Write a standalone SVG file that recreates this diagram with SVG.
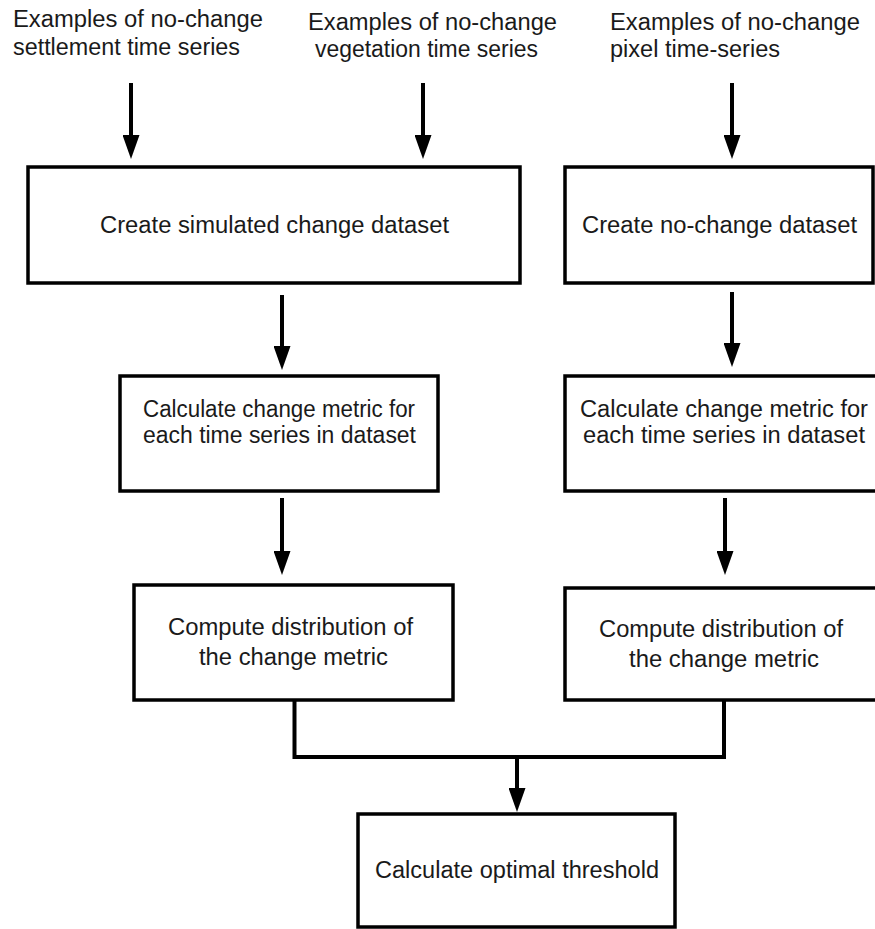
<svg xmlns="http://www.w3.org/2000/svg" width="875" height="929" viewBox="0 0 875 929">
<style>
  text { font-family: "Liberation Sans", Arial, sans-serif; font-size: 23px; fill: #1a1a1a; }
  .box { fill: #ffffff; stroke: #000000; stroke-width: 3.5; }
  .conn { fill: none; stroke: #000000; stroke-width: 4; }
  .arrow { fill: none; stroke: #000000; stroke-width: 4; marker-end: url(#head); }
</style>
<defs>
  <marker id="head" viewBox="0 0 24 17" markerWidth="24" markerHeight="17" refX="0" refY="8.5" orient="auto" markerUnits="userSpaceOnUse">
    <path d="M0,0 L24,8.5 L0,17 Z" fill="#000000"/>
  </marker>
</defs>
<rect width="875" height="929" fill="#ffffff"/>

<g id="src-settlement">
  <text x="13" y="27" textLength="250" lengthAdjust="spacingAndGlyphs">Examples of no-change</text>
  <text x="13" y="55" textLength="227" lengthAdjust="spacingAndGlyphs">settlement time series</text>
</g>
<g id="src-vegetation">
  <text x="308" y="30" textLength="249" lengthAdjust="spacingAndGlyphs">Examples of no-change</text>
  <text x="315" y="57" textLength="223" lengthAdjust="spacingAndGlyphs">vegetation time series</text>
</g>
<g id="src-pixel">
  <text x="610" y="30" textLength="250" lengthAdjust="spacingAndGlyphs">Examples of no-change</text>
  <text x="610" y="57" textLength="170" lengthAdjust="spacingAndGlyphs">pixel time-series</text>
</g>

<g id="connectors">
  <line class="arrow" x1="131" y1="83" x2="131" y2="135"/>
  <line class="arrow" x1="423" y1="83" x2="423" y2="135"/>
  <line class="arrow" x1="732" y1="83" x2="732" y2="135"/>
  <line class="arrow" x1="282" y1="295" x2="282" y2="346"/>
  <line class="arrow" x1="732" y1="292" x2="732" y2="343"/>
  <line class="arrow" x1="282" y1="498" x2="282" y2="551"/>
  <line class="arrow" x1="725" y1="498" x2="725" y2="551"/>
  <path class="conn" d="M294.5,700 V757 H724 V700"/>
  <line class="arrow" x1="517" y1="757" x2="517" y2="788"/>
</g>

<g id="simulated-change">
  <rect class="box" x="28" y="167" width="492" height="116"/>
  <text x="100" y="233" textLength="349" lengthAdjust="spacingAndGlyphs">Create simulated change dataset</text>
</g>
<g id="no-change">
  <rect class="box" x="565" y="167" width="308" height="116"/>
  <text x="582" y="233" textLength="275" lengthAdjust="spacingAndGlyphs">Create no-change dataset</text>
</g>
<g id="metric-left">
  <rect class="box" x="120" y="376" width="318" height="115"/>
  <text x="143" y="417" textLength="272" lengthAdjust="spacingAndGlyphs">Calculate change metric for</text>
  <text x="143" y="443" textLength="273" lengthAdjust="spacingAndGlyphs">each time series in dataset</text>
</g>
<g id="metric-right">
  <rect class="box" x="565" y="376" width="330" height="115"/>
  <text x="580" y="417" textLength="288" lengthAdjust="spacingAndGlyphs">Calculate change metric for</text>
  <text x="583" y="443" textLength="282" lengthAdjust="spacingAndGlyphs">each time series in dataset</text>
</g>
<g id="distribution-left">
  <rect class="box" x="134" y="585" width="319" height="115"/>
  <text x="168" y="635" textLength="245" lengthAdjust="spacingAndGlyphs">Compute distribution of</text>
  <text x="199" y="665" textLength="189" lengthAdjust="spacingAndGlyphs">the change metric</text>
</g>
<g id="distribution-right">
  <rect class="box" x="565" y="588" width="330" height="112"/>
  <text x="599" y="637" textLength="244" lengthAdjust="spacingAndGlyphs">Compute distribution of</text>
  <text x="629" y="667" textLength="190" lengthAdjust="spacingAndGlyphs">the change metric</text>
</g>
<g id="optimal-threshold">
  <rect class="box" x="358" y="814" width="317" height="113"/>
  <text x="375" y="878" textLength="284" lengthAdjust="spacingAndGlyphs">Calculate optimal threshold</text>
</g>
</svg>
